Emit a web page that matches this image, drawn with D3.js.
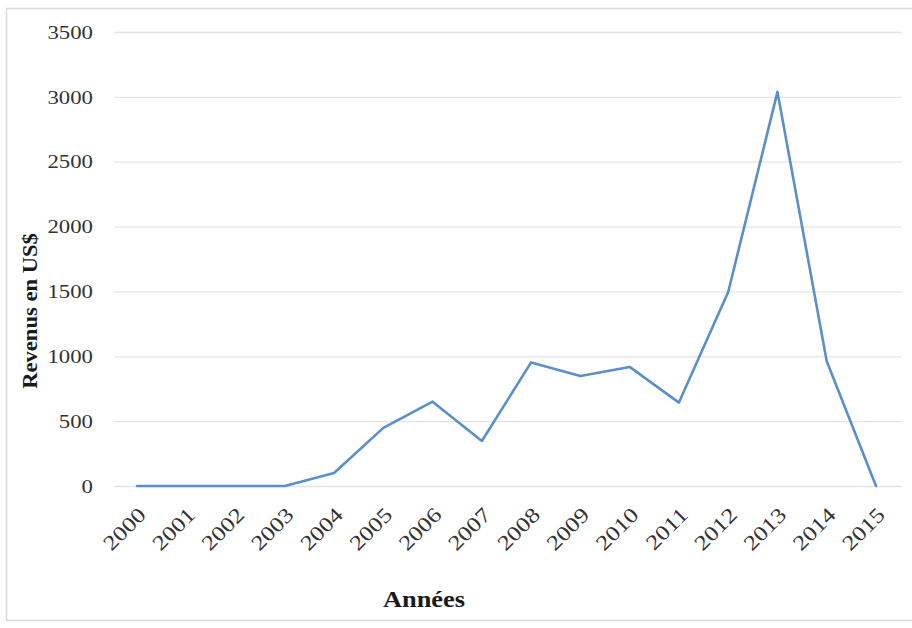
<!DOCTYPE html>
<html><head><meta charset="utf-8">
<script src="https://cdn.jsdelivr.net/npm/d3@7"></script>
<style>body{margin:0;background:#fff}svg{display:block}</style>
</head><body>
<svg id="c" width="912" height="628"></svg>
<script>
const years = ["2000","2001","2002","2003","2004","2005","2006","2007","2008","2009","2010","2011","2012","2013","2014","2015"];
const revenus = [0,0,0,0,100,448,650,347,953,848,918,643,1496,3038,962,0];
const yTicks = [0,500,1000,1500,2000,2500,3000,3500];

const svg = d3.select("#c");
const W = 912, H = 628;
const font = "'Liberation Serif','Times New Roman',serif";

// frame
svg.append("rect").attr("x",6.5).attr("y",8.5).attr("width",W).attr("height",612)
  .attr("fill","#fff").attr("stroke","#d9d9d9").attr("stroke-width",1.5);

const x = d3.scalePoint().domain(years).range([137,876]);
const y = d3.scaleLinear().domain([0,3500]).range([486,32]);

// gridlines via axis
const gAxisY = svg.append("g").attr("transform","translate(114,0)")
  .call(d3.axisRight(y).tickValues(yTicks).tickSize(788).tickFormat(""));
gAxisY.select(".domain").remove();
gAxisY.selectAll(".tick line").attr("stroke","#e4e4e4").attr("stroke-width",1.3);

// y tick labels
svg.append("g").selectAll("text").data(yTicks).join("text")
  .attr("transform",d=>`translate(93,${y(d)}) scale(1.2,1)`)
  .attr("text-anchor","end").attr("dy","0.35em")
  .attr("font-family",font).attr("font-size",19).attr("fill","#333")
  .text(d=>d);

// x tick labels
svg.append("g").selectAll("text").data(years).join("text")
  .attr("transform",d=>`translate(${x(d)+5},${511}) rotate(-45) scale(1.2,1)`)
  .attr("text-anchor","end").attr("dy","0.35em")
  .attr("font-family",font).attr("font-size",21).attr("fill","#333")
  .text(d=>d);

// line
const line = d3.line().x((d,i)=>x(years[i])).y(d=>y(d));
svg.append("path").datum(revenus).attr("d",line)
  .attr("fill","none").attr("stroke","#5b8fc9").attr("stroke-width",2.6)
  .attr("stroke-linejoin","round").attr("stroke-linecap","round");

// axis titles
svg.append("text").attr("transform","translate(424,607) scale(1.15,1)")
  .attr("text-anchor","middle").attr("font-family",font).attr("font-weight","bold")
  .attr("font-size",23).attr("fill","#1a1a1a").text("Années");

svg.append("text").attr("transform","translate(37,311) rotate(-90) scale(1.13,1)")
  .attr("text-anchor","middle").attr("font-family",font).attr("font-weight","bold")
  .attr("font-size",20).attr("fill","#1a1a1a").text("Revenus en US$");
</script>
</body></html>
